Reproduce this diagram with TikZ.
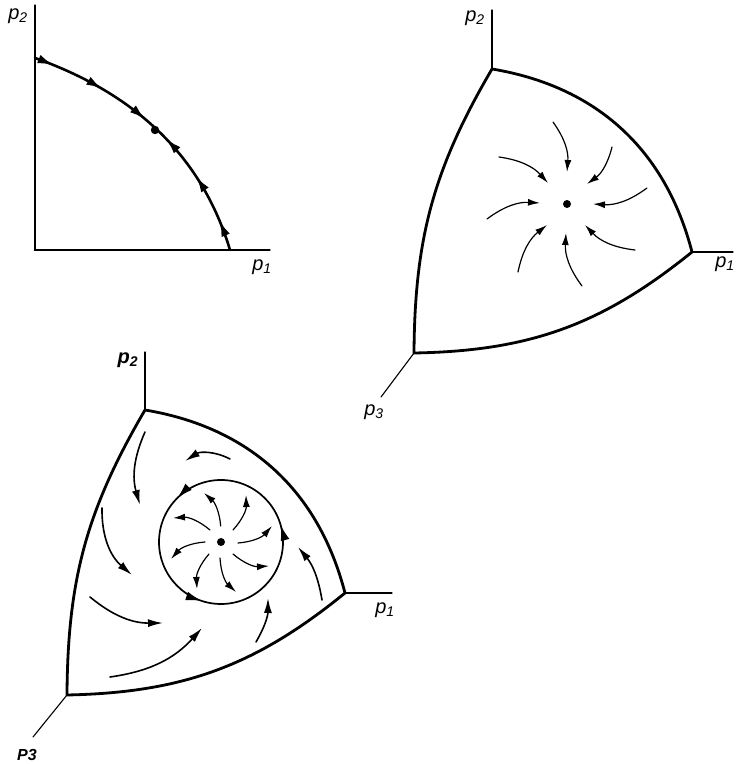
\documentclass[tikz,border=0pt]{standalone}
\usepackage{fontspec}
\setmainfont{Liberation Sans}
\usepackage{tikz}
\usetikzlibrary{arrows.meta,decorations.markings}

\tikzset{
  axisline/.style={line width=1.1pt},
  rim/.style={line width=2.8pt,line join=round},
  flow/.style={line width=1.2pt,-{Latex[length=12pt,width=7pt]}},
  bigtip/.style={line width=1.6pt,-{Latex[length=15pt,width=8pt]}},
  axlabel/.style={font=\fontsize{20}{24}\selectfont\itshape,inner sep=1pt},
  rest/.style={fill=black}
}

\begin{document}
\begin{tikzpicture}[x=1pt,y=1pt,line cap=round]
\useasboundingbox (0,0) rectangle (736,764);

% --- two goods: boundary curve with one rest point
\coordinate (O1) at (35,514);
\coordinate (Y1) at (35,759);
\coordinate (X1) at (270,514);
\draw[axisline] (Y1) -- (O1) -- (X1);
\node[axlabel] (p2a) at (18,748) {p\textsubscript{2}};
\node[axlabel] (p1a) at (262,497) {p\textsubscript{1}};
\coordinate (S1) at (35,706);
\coordinate (E1) at (230,514);
\draw[line width=2.6pt,decoration={markings,
    mark=at position 0.07 with {\arrow{Latex[length=16pt,width=9pt]}},
    mark=at position 0.26 with {\arrow{Latex[length=16pt,width=9pt]}},
    mark=at position 0.445 with {\arrow{Latex[length=16pt,width=9pt]}},
    mark=at position 0.545 with {\arrowreversed{Latex[length=16pt,width=9pt]}},
    mark=at position 0.715 with {\arrowreversed{Latex[length=16pt,width=9pt]}},
    mark=at position 0.89 with {\arrowreversed{Latex[length=16pt,width=9pt]}}},
    postaction={decorate}]
  (S1) .. controls (128,673) and (200,614) .. (E1);
\fill[rest] (155,634) circle (4.2pt);

% --- three goods: stable rest point
\coordinate (T2) at (492,695);
\coordinate (R2) at (692,512);
\coordinate (L2) at (414,411);
\draw[axisline] (T2) -- (492,754);
\draw[axisline] (R2) -- (733,512);
\draw[axisline] (L2) -- (381,367);
\node[axlabel] (p2b) at (475,746) {p\textsubscript{2}};
\node[axlabel] (p1b) at (725,500) {p\textsubscript{1}};
\node[axlabel] (p3b) at (374,352) {p\textsubscript{3}};
\draw[rim] (T2) to[bend left=33] (R2) to[bend left=19] (L2) to[bend left=15] (T2);
\fill[rest] (567,560) circle (4pt);
\draw[flow] (553,642) to[bend left=20] (567,592);
\draw[flow] (612,617) to[bend left=20] (587,580);
\draw[flow] (647,576) to[bend left=20] (593,560);
\draw[flow] (635,514) to[bend left=20] (585,539);
\draw[flow] (582,478) to[bend left=20] (566,531);
\draw[flow] (518,492) to[bend left=20] (547,539);
\draw[flow] (487,545) to[bend left=20] (540,561);
\draw[flow] (499,607) to[bend left=20] (548,581);

% --- three goods: unstable rest point inside a limit cycle
\coordinate (T3) at (145,354);
\coordinate (R3) at (345,171);
\coordinate (L3) at (67,69);
\draw[axisline] (T3) -- (145,412);
\draw[axisline] (R3) -- (392,171);
\draw[axisline] (L3) -- (33,27);
\node[axlabel,font=\fontsize{20}{24}\selectfont\bfseries\itshape] (p2c) at (128,404) {p\textsubscript{2}};
\node[axlabel] (p1c) at (385,154) {p\textsubscript{1}};
\node[axlabel,font=\fontsize{16}{19}\selectfont\bfseries\itshape] (p3c) at (27,9) {P3};
\draw[rim] (T3) to[bend left=33] (R3) to[bend left=19] (L3) to[bend left=15] (T3);
\coordinate (C3) at (221,222);
\draw[line width=1.7pt,decoration={markings,
    mark=at position 0.045 with {\arrow{Latex[length=16pt,width=9pt]}},
    mark=at position 0.375 with {\arrow{Latex[length=16pt,width=9pt]}},
    mark=at position 0.70 with {\arrow{Latex[length=16pt,width=9pt]}}},
    postaction={decorate}]
  (C3) circle (62);
\fill[rest] (C3) circle (4pt);
\draw[flow] (220.7,238) to[bend right=22] (204,271);
\draw[flow] (233,234) to[bend right=22] (246,269);
\draw[flow] (238,221) to[bend right=22] (272,238);
\draw[flow] (233,210) to[bend right=22] (269,198);
\draw[flow] (220,206) to[bend right=22] (236,172);
\draw[flow] (209,210) to[bend right=22] (197,175);
\draw[flow] (205,222) to[bend right=22] (171,205);
\draw[flow] (210,234) to[bend right=22] (173,246);
\draw[bigtip] (145,332) to[bend right=20] (140,259);
\draw[bigtip] (102,256) to[bend right=25] (132,189);
\draw[bigtip] (90,167) to[bend right=20] (163,141);
\draw[bigtip] (110,87) to[bend right=20] (202,136);
\draw[bigtip] (256,122) to[bend right=15] (268,166);
\draw[bigtip] (322,164) to[bend right=15] (298,217);
\draw[bigtip] (230,305) to[bend right=30] (185,303);
\end{tikzpicture}
\end{document}
